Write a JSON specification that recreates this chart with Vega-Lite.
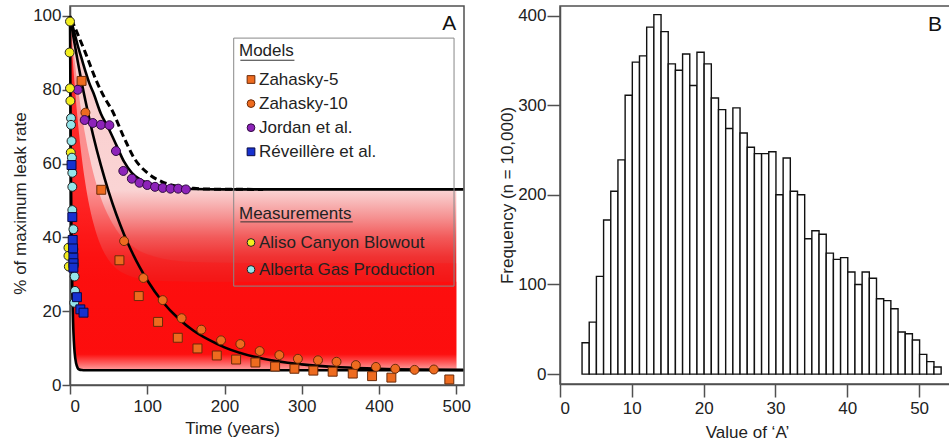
{
  "$schema": "https://vega.github.io/schema/vega-lite/v6.json",
  "padding": {"left": 10, "top": 5, "right": 0, "bottom": 0},
  "spacing": 25,
  "config": {
    "font": "Liberation Sans",
    "view": {"stroke": "#505050", "strokeWidth": 1.5},
    "axis": {"grid": false, "labelFontSize": 17, "titleFontSize": 17, "titleFontWeight": "normal", "labelColor": "#222", "titleColor": "#222", "domainColor": "#505050", "tickColor": "#505050", "domainWidth": 1.5, "tickWidth": 1.5}
  },
  "datasets": {
    "band": [
      {"t":0,"lo":100,"hi":100,"w1":100,"w2":100},
      {"t":1,"lo":62.2,"hi":99.2,"w1":97.8,"w2":96.5},
      {"t":2,"lo":39.3,"hi":98.4,"w1":95.7,"w2":93.1},
      {"t":3,"lo":25.4,"hi":97.6,"w1":93.6,"w2":90},
      {"t":4,"lo":17,"hi":96.8,"w1":91.6,"w2":87},
      {"t":5,"lo":11.9,"hi":96,"w1":89.7,"w2":84.1},
      {"t":6,"lo":8.8,"hi":95.2,"w1":87.9,"w2":81.4},
      {"t":8,"lo":5.8,"hi":93.6,"w1":84.3,"w2":76.3},
      {"t":10,"lo":4.6,"hi":92,"w1":81,"w2":71.7},
      {"t":12,"lo":4.2,"hi":90.6,"w1":77.9,"w2":67.5},
      {"t":15,"lo":4.05,"hi":88.5,"w1":73.6,"w2":62},
      {"t":20,"lo":4,"hi":85,"w1":67.4,"w2":54.5},
      {"t":25,"lo":4,"hi":81.8,"w1":62.1,"w2":48.6},
      {"t":30,"lo":4,"hi":79.3,"w1":57.6,"w2":44.1},
      {"t":40,"lo":4,"hi":73.5,"w1":50.7,"w2":37.7},
      {"t":50,"lo":4,"hi":69.5,"w1":45.7,"w2":33.9},
      {"t":60,"lo":4,"hi":65,"w1":42.1,"w2":31.6},
      {"t":70,"lo":4,"hi":60.5,"w1":39.5,"w2":30.2},
      {"t":80,"lo":4,"hi":57.5,"w1":37.7,"w2":29.3},
      {"t":90,"lo":4,"hi":55.8,"w1":36.3,"w2":28.8},
      {"t":100,"lo":4,"hi":54.8,"w1":35.4,"w2":28.5},
      {"t":120,"lo":4,"hi":53.8,"w1":34.2,"w2":28.2},
      {"t":140,"lo":4,"hi":53.3,"w1":33.6,"w2":28.1},
      {"t":160,"lo":4,"hi":53.1,"w1":33.3,"w2":28},
      {"t":200,"lo":4,"hi":53,"w1":33.1,"w2":28},
      {"t":300,"lo":4,"hi":53,"w1":33,"w2":28},
      {"t":500,"lo":4,"hi":53,"w1":33,"w2":28}
    ],
    "lines": [
      {"c":"lo","t":0,"v":100},{"c":"lo","t":1,"v":62.2},{"c":"lo","t":2,"v":39.3},{"c":"lo","t":3,"v":25.4},{"c":"lo","t":4,"v":17},{"c":"lo","t":5,"v":11.9},{"c":"lo","t":6,"v":8.8},{"c":"lo","t":8,"v":5.8},{"c":"lo","t":10,"v":4.6},{"c":"lo","t":12,"v":4.2},{"c":"lo","t":15,"v":4.05},{"c":"lo","t":20,"v":4},{"c":"lo","t":509,"v":4},
      {"c":"zah","t":0,"v":100},{"c":"zah","t":5,"v":93.6},{"c":"zah","t":10,"v":87.7},{"c":"zah","t":15,"v":82.1},{"c":"zah","t":20,"v":77},{"c":"zah","t":30,"v":67.6},{"c":"zah","t":40,"v":59.5},{"c":"zah","t":50,"v":52.4},{"c":"zah","t":60,"v":46.2},{"c":"zah","t":70,"v":40.8},{"c":"zah","t":80,"v":36.1},{"c":"zah","t":90,"v":32},{"c":"zah","t":100,"v":28.4},{"c":"zah","t":120,"v":22.5},{"c":"zah","t":140,"v":18.1},{"c":"zah","t":160,"v":14.7},{"c":"zah","t":180,"v":12.2},{"c":"zah","t":200,"v":10.2},{"c":"zah","t":250,"v":7.1},{"c":"zah","t":300,"v":5.6},{"c":"zah","t":350,"v":4.8},{"c":"zah","t":400,"v":4.4},{"c":"zah","t":450,"v":4.2},{"c":"zah","t":509,"v":4.1},
      {"c":"up","t":0,"v":100},{"c":"up","t":5,"v":96},{"c":"up","t":10,"v":92},{"c":"up","t":15,"v":88.5},{"c":"up","t":20,"v":85},{"c":"up","t":25,"v":81.8},{"c":"up","t":30,"v":79.3},{"c":"up","t":40,"v":73.5},{"c":"up","t":50,"v":69.5},{"c":"up","t":60,"v":65},{"c":"up","t":70,"v":60.5},{"c":"up","t":80,"v":57.5},{"c":"up","t":90,"v":55.8},{"c":"up","t":100,"v":54.8},{"c":"up","t":120,"v":53.8},{"c":"up","t":140,"v":53.3},{"c":"up","t":160,"v":53.1},{"c":"up","t":200,"v":53},{"c":"up","t":509,"v":53}
    ],
    "dash": [
      {"t":2,"v":99},{"t":20,"v":90},{"t":35,"v":82},{"t":47,"v":77},{"t":53,"v":75},{"t":70,"v":67},{"t":83,"v":61.5},{"t":100,"v":57.5},{"t":120,"v":55},{"t":140,"v":53.8},{"t":160,"v":53.3},{"t":190,"v":53.05},{"t":250,"v":53}
    ],
    "models": [
      {"s":"Zahasky-5","t":15,"v":82.4},{"s":"Zahasky-5","t":40.5,"v":52.9},{"s":"Zahasky-5","t":64,"v":33.8},{"s":"Zahasky-5","t":89,"v":24.1},{"s":"Zahasky-5","t":114,"v":17.1},{"s":"Zahasky-5","t":139.5,"v":12.8},{"s":"Zahasky-5","t":165,"v":9.9},{"s":"Zahasky-5","t":190,"v":8},{"s":"Zahasky-5","t":215,"v":6.9},{"s":"Zahasky-5","t":240,"v":6.1},{"s":"Zahasky-5","t":265.5,"v":5},{"s":"Zahasky-5","t":290.5,"v":4.4},{"s":"Zahasky-5","t":315,"v":3.9},{"s":"Zahasky-5","t":340,"v":3.6},{"s":"Zahasky-5","t":366,"v":3.1},{"s":"Zahasky-5","t":391,"v":2.4},{"s":"Zahasky-5","t":416,"v":2},{"s":"Zahasky-5","t":491,"v":1.5},
      {"s":"Zahasky-10","t":20,"v":73.8},{"s":"Zahasky-10","t":70,"v":39},{"s":"Zahasky-10","t":95,"v":29},{"s":"Zahasky-10","t":120,"v":23},{"s":"Zahasky-10","t":144.5,"v":18.1},{"s":"Zahasky-10","t":170,"v":15},{"s":"Zahasky-10","t":195.5,"v":12.1},{"s":"Zahasky-10","t":220.5,"v":11.1},{"s":"Zahasky-10","t":245.5,"v":9.2},{"s":"Zahasky-10","t":271,"v":8.1},{"s":"Zahasky-10","t":295,"v":7.1},{"s":"Zahasky-10","t":321,"v":6.7},{"s":"Zahasky-10","t":345,"v":6.3},{"s":"Zahasky-10","t":370,"v":5.4},{"s":"Zahasky-10","t":396,"v":4.9},{"s":"Zahasky-10","t":421,"v":4.4},{"s":"Zahasky-10","t":446,"v":4.1},{"s":"Zahasky-10","t":471,"v":4.2},
      {"s":"Jordan et al.","t":10,"v":80},{"s":"Jordan et al.","t":19,"v":71.8},{"s":"Jordan et al.","t":29.5,"v":71},{"s":"Jordan et al.","t":40,"v":70.5},{"s":"Jordan et al.","t":51,"v":70.4},{"s":"Jordan et al.","t":59.5,"v":63.4},{"s":"Jordan et al.","t":69,"v":58},{"s":"Jordan et al.","t":80,"v":55.9},{"s":"Jordan et al.","t":90,"v":54.8},{"s":"Jordan et al.","t":100,"v":54.2},{"s":"Jordan et al.","t":110,"v":53.7},{"s":"Jordan et al.","t":120,"v":53.4},{"s":"Jordan et al.","t":130,"v":53.2},{"s":"Jordan et al.","t":140,"v":53.2},{"s":"Jordan et al.","t":150,"v":53}
    ],
    "rev": [
      {"s":"Réveillère et al.","t":2,"v":59.6},{"s":"Réveillère et al.","t":3,"v":45.5},{"s":"Réveillère et al.","t":3.5,"v":39.3},{"s":"Réveillère et al.","t":4,"v":37},{"s":"Réveillère et al.","t":4.4,"v":34.5},{"s":"Réveillère et al.","t":4.5,"v":33},{"s":"Réveillère et al.","t":4.4,"v":31.8},{"s":"Réveillère et al.","t":9,"v":23.8},{"s":"Réveillère et al.","t":13.4,"v":20.5},{"s":"Réveillère et al.","t":17.5,"v":19.6}
    ],
    "meas": [
      {"s":"Aliso Canyon Blowout","t":0,"v":98.5},{"s":"Aliso Canyon Blowout","t":-0.5,"v":90.1},{"s":"Aliso Canyon Blowout","t":0,"v":80.4},{"s":"Aliso Canyon Blowout","t":0.5,"v":77},{"s":"Aliso Canyon Blowout","t":1,"v":63},{"s":"Aliso Canyon Blowout","t":-2,"v":37.2},{"s":"Aliso Canyon Blowout","t":-2,"v":35},{"s":"Aliso Canyon Blowout","t":-1.5,"v":32.1},
      {"s":"Alberta Gas Production","t":1.3,"v":72.3},{"s":"Alberta Gas Production","t":1.3,"v":70.5},{"s":"Alberta Gas Production","t":2,"v":66.1},{"s":"Alberta Gas Production","t":2.5,"v":61.6},{"s":"Alberta Gas Production","t":3,"v":57.5},{"s":"Alberta Gas Production","t":3,"v":53.7},{"s":"Alberta Gas Production","t":3,"v":47.4},{"s":"Alberta Gas Production","t":4.4,"v":42.2},{"s":"Alberta Gas Production","t":4.4,"v":36.8},{"s":"Alberta Gas Production","t":5,"v":32.7},{"s":"Alberta Gas Production","t":6,"v":29.4},{"s":"Alberta Gas Production","t":6.5,"v":25.5},{"s":"Alberta Gas Production","t":5.5,"v":22.3}
    ],
    "hist": [
      {"a0":3,"a1":4,"n":35},{"a0":4,"a1":5,"n":58},{"a0":5,"a1":6,"n":109},{"a0":6,"a1":7,"n":172},{"a0":7,"a1":8,"n":204},{"a0":8,"a1":9,"n":239},{"a0":9,"a1":10,"n":311},{"a0":10,"a1":11,"n":348},{"a0":11,"a1":12,"n":355},{"a0":12,"a1":13,"n":387},{"a0":13,"a1":14,"n":401},{"a0":14,"a1":15,"n":382},{"a0":15,"a1":16,"n":346},{"a0":16,"a1":17,"n":339},{"a0":17,"a1":18,"n":357},{"a0":18,"a1":19,"n":322},{"a0":19,"a1":20,"n":359},{"a0":20,"a1":21,"n":346},{"a0":21,"a1":22,"n":308},{"a0":22,"a1":23,"n":295},{"a0":23,"a1":24,"n":274},{"a0":24,"a1":25,"n":297},{"a0":25,"a1":26,"n":269},{"a0":26,"a1":27,"n":253},{"a0":27,"a1":28,"n":246},{"a0":28,"a1":29,"n":246},{"a0":29,"a1":30,"n":248},{"a0":30,"a1":31,"n":200},{"a0":31,"a1":32,"n":241},{"a0":32,"a1":33,"n":204},{"a0":33,"a1":34,"n":200},{"a0":34,"a1":35,"n":151},{"a0":35,"a1":36,"n":160},{"a0":36,"a1":37,"n":156},{"a0":37,"a1":38,"n":135},{"a0":38,"a1":39,"n":128},{"a0":39,"a1":40,"n":130},{"a0":40,"a1":41,"n":114},{"a0":41,"a1":42,"n":100},{"a0":42,"a1":43,"n":114},{"a0":43,"a1":44,"n":107},{"a0":44,"a1":45,"n":84},{"a0":45,"a1":46,"n":82},{"a0":46,"a1":47,"n":73},{"a0":47,"a1":48,"n":47},{"a0":48,"a1":49,"n":45},{"a0":49,"a1":50,"n":38},{"a0":50,"a1":51,"n":22},{"a0":51,"a1":52,"n":14},{"a0":52,"a1":53,"n":8}
    ]
  },
  "hconcat": [
    {
      "width": 394,
      "height": 379,
      "layer": [
        {
          "data": {"name": "band"},
          "mark": {"type": "area", "interpolate": "monotone", "fill": {"gradient": "linear", "x1": 0, "y1": 0, "x2": 0, "y2": 1, "stops": [
            {"offset": 0, "color": "#f9cccc"},
            {"offset": 0.49, "color": "#fad4d4"},
            {"offset": 0.52, "color": "#f8bcbc"},
            {"offset": 0.57, "color": "#f59090"},
            {"offset": 0.625, "color": "#f25a5a"},
            {"offset": 0.68, "color": "#f03232"},
            {"offset": 0.74, "color": "#ee1a1a"},
            {"offset": 0.94, "color": "#ee1212"},
            {"offset": 0.975, "color": "#f24a4a"},
            {"offset": 1, "color": "#f58a8a"}]}},
          "encoding": {
            "x": {"field": "t", "type": "quantitative", "scale": {"domain": [0, 510], "nice": false, "zero": false},
                  "axis": {"values": [0, 100, 200, 300, 400, 500], "tickSize": 9, "labelPadding": 4, "title": "Time (years)", "titlePadding": 6, "titleX": 162}},
            "y": {"field": "hi", "type": "quantitative", "scale": {"domain": [0, 102.7], "nice": false, "zero": false},
                  "axis": {"values": [0, 20, 40, 60, 80, 100], "tickSize": 8, "labelPadding": 1, "title": "% of maximum leak rate", "titlePadding": 3, "titleY": 197}},
            "y2": {"field": "lo"}
          }
        },
        {
          "data": {"name": "band"},
          "mark": {"type": "area", "interpolate": "monotone", "fill": "#ff1414", "opacity": 0.35},
          "encoding": {
            "x": {"field": "t", "type": "quantitative"},
            "y": {"field": "w1", "type": "quantitative"},
            "y2": {"field": "lo"}
          }
        },
        {
          "data": {"name": "band"},
          "mark": {"type": "area", "interpolate": "monotone", "opacity": 0.8, "fill": {"gradient": "linear", "x1": 0, "y1": 0, "x2": 0, "y2": 1, "stops": [
            {"offset": 0, "color": "#ff0c0c"},
            {"offset": 0.955, "color": "#ff0c0c"},
            {"offset": 1, "color": "#ffb0b0"}]}},
          "encoding": {
            "x": {"field": "t", "type": "quantitative"},
            "y": {"field": "w2", "type": "quantitative"},
            "y2": {"field": "lo"}
          }
        },
        {
          "data": {"name": "lines"},
          "mark": {"type": "line", "interpolate": "monotone", "color": "#000", "strokeWidth": 2.6},
          "encoding": {
            "x": {"field": "t", "type": "quantitative"},
            "y": {"field": "v", "type": "quantitative"},
            "detail": {"field": "c"}
          }
        },
        {
          "data": {"name": "dash"},
          "mark": {"type": "line", "interpolate": "monotone", "color": "#000", "strokeWidth": 3, "strokeDash": [7, 4]},
          "encoding": {
            "x": {"field": "t", "type": "quantitative"},
            "y": {"field": "v", "type": "quantitative"}
          }
        },
        {
          "data": {"values": [{}]},
          "mark": {"type": "rect", "fill": "transparent", "stroke": "#888", "strokeWidth": 1},
          "encoding": {
            "x": {"datum": 211.9},
            "x2": {"datum": 497.1},
            "y": {"datum": 94},
            "y2": {"datum": 26.8}
          }
        },
        {
          "data": {"values": [{}]},
          "mark": {"type": "rule", "color": "#333", "strokeWidth": 1},
          "encoding": {
            "x": {"datum": 220.5},
            "x2": {"datum": 290.5},
            "y": {"datum": 88}
          }
        },
        {
          "data": {"values": [{}]},
          "mark": {"type": "rule", "color": "#333", "strokeWidth": 1},
          "encoding": {
            "x": {"datum": 220.5},
            "x2": {"datum": 366},
            "y": {"datum": 44.2}
          }
        },
        {
          "data": {"name": "models"},
          "mark": {"type": "point", "filled": true, "size": 80, "strokeWidth": 1, "opacity": 1},
          "encoding": {
            "x": {"field": "t", "type": "quantitative"},
            "y": {"field": "v", "type": "quantitative"},
            "fill": {"field": "s", "type": "nominal",
              "scale": {"domain": ["Zahasky-5", "Zahasky-10", "Jordan et al.", "Réveillère et al."],
                        "range": ["#ee6b1f", "#ee6b1f", "#8d23b9", "#1631cf"]},
              "legend": {"title": "Models", "orient": "none", "legendX": 164, "legendY": 32, "padding": 5,
                         "titleFontSize": 17, "titleFontWeight": "normal", "titleColor": "#222", "titlePadding": 11,
                         "labelFontSize": 17, "labelColor": "#222", "labelLimit": 400, "labelOffset": -0.5,
                         "symbolSize": 60, "symbolStrokeWidth": 1, "symbolOffset": 3.5, "rowPadding": 6.1}},
            "shape": {"field": "s", "type": "nominal",
              "scale": {"domain": ["Zahasky-5", "Zahasky-10", "Jordan et al.", "Réveillère et al."],
                        "range": ["square", "circle", "circle", "square"]}},
            "stroke": {"field": "s", "type": "nominal",
              "scale": {"domain": ["Zahasky-5", "Zahasky-10", "Jordan et al.", "Réveillère et al."],
                        "range": ["#6b2a08", "#6b2a08", "#2e0a40", "#0a0a45"]}}
          }
        },
        {
          "data": {"name": "meas"},
          "mark": {"type": "point", "filled": true, "size": 80, "stroke": "#222", "strokeWidth": 1, "opacity": 1},
          "encoding": {
            "x": {"field": "t", "type": "quantitative"},
            "y": {"field": "v", "type": "quantitative"},
            "color": {"field": "s", "type": "nominal",
              "scale": {"domain": ["Aliso Canyon Blowout", "Alberta Gas Production"], "range": ["#f3ee1e", "#95e5ea"]},
              "legend": {"title": "Measurements", "orient": "none", "legendX": 164, "legendY": 195, "padding": 5,
                         "titleFontSize": 17, "titleFontWeight": "normal", "titleColor": "#222", "titlePadding": 11,
                         "labelFontSize": 17, "labelColor": "#222", "labelLimit": 400, "labelOffset": -0.5,
                         "symbolSize": 60, "symbolStrokeColor": "#222", "symbolStrokeWidth": 1, "symbolOffset": 3.5, "rowPadding": 9}}
          }
        },
        {
          "data": {"name": "rev"},
          "mark": {"type": "point", "filled": true, "size": 80, "strokeWidth": 1, "opacity": 1},
          "encoding": {
            "x": {"field": "t", "type": "quantitative"},
            "y": {"field": "v", "type": "quantitative"},
            "fill": {"field": "s", "type": "nominal",
              "scale": {"domain": ["Zahasky-5", "Zahasky-10", "Jordan et al.", "Réveillère et al."],
                        "range": ["#ee6b1f", "#ee6b1f", "#8d23b9", "#1631cf"]}},
            "shape": {"field": "s", "type": "nominal",
              "scale": {"domain": ["Zahasky-5", "Zahasky-10", "Jordan et al.", "Réveillère et al."],
                        "range": ["square", "circle", "circle", "square"]}},
            "stroke": {"field": "s", "type": "nominal",
              "scale": {"domain": ["Zahasky-5", "Zahasky-10", "Jordan et al.", "Réveillère et al."],
                        "range": ["#6b2a08", "#6b2a08", "#2e0a40", "#0a0a45"]}}
          }
        },
        {
          "data": {"values": [{"label": "A"}]},
          "mark": {"type": "text", "fontSize": 21, "color": "#111"},
          "encoding": {
            "x": {"datum": 491},
            "y": {"datum": 97.7},
            "text": {"field": "label"}
          }
        }
      ]
    },
    {
      "width": 395,
      "height": 378,
      "layer": [
        {
          "data": {"name": "hist"},
          "mark": {"type": "bar", "fill": "white", "stroke": "#111", "strokeWidth": 1.4, "binSpacing": 0},
          "encoding": {
            "x": {"field": "a0", "type": "quantitative", "bin": "binned", "scale": {"domain": [0, 55], "nice": false, "zero": false},
                  "axis": {"values": [0, 10, 20, 30, 40, 50], "tickSize": 13, "labelPadding": 3, "title": "Value of ‘A’", "titlePadding": 8, "titleX": 187}},
            "x2": {"field": "a1"},
            "y": {"field": "n", "type": "quantitative", "scale": {"domain": [-11, 410.6], "nice": false, "zero": false},
                  "axis": {"values": [0, 100, 200, 300, 400], "tickSize": 13, "labelPadding": 1, "title": "Frequency (n = 10,000)", "titlePadding": 1}},
            "y2": {"datum": 0}
          }
        },
        {
          "data": {"values": [{"label": "B"}]},
          "mark": {"type": "text", "fontSize": 21, "color": "#111"},
          "encoding": {
            "x": {"datum": 52.2},
            "y": {"datum": 389},
            "text": {"field": "label"}
          }
        }
      ]
    }
  ]
}
